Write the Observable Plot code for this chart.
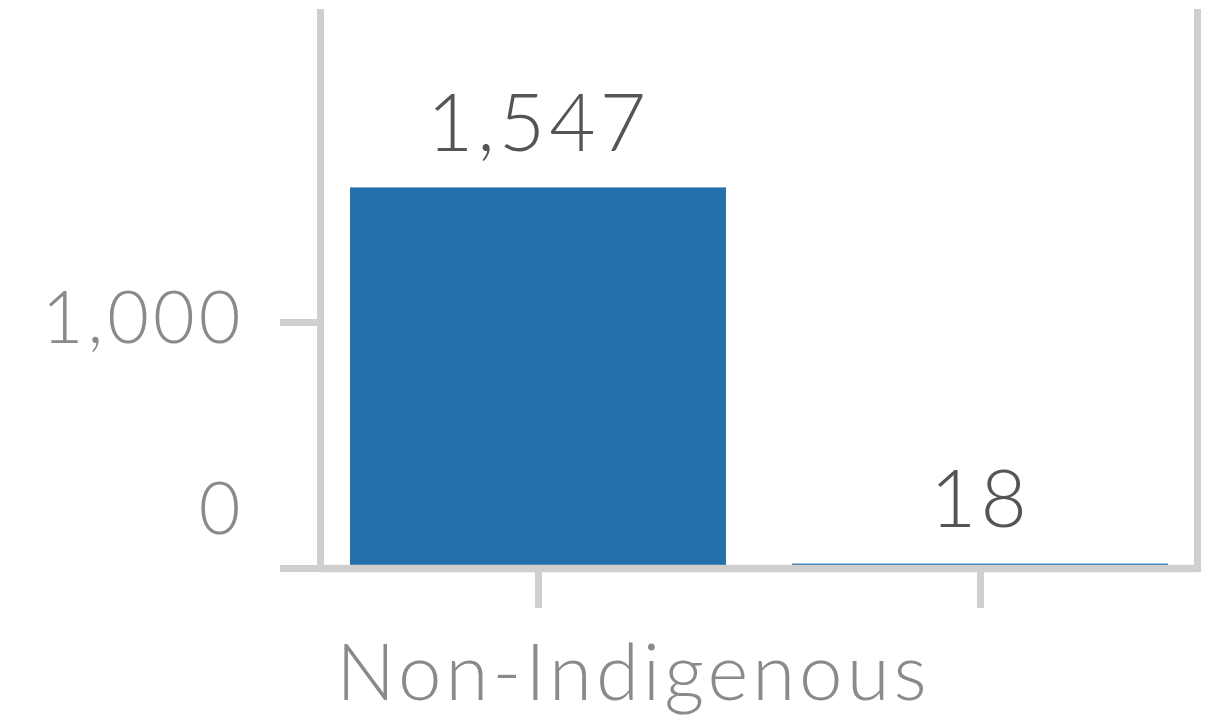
<!DOCTYPE html>
<html>
<head>
<meta charset="utf-8">
<script src="https://cdn.jsdelivr.net/npm/d3@7"></script>
<script src="https://cdn.jsdelivr.net/npm/@observablehq/plot@0.6"></script>
<style>
  html, body { margin: 0; padding: 0; background: #fff; }
  svg text { letter-spacing: 4px; }
</style>
</head>
<body>
<div id="chart"></div>
<script>
const categories = ["Non-Indigenous", "Indigenous"];
const values = [1547, 18];
const yTicks = [0, 1000];

const data = categories.map((c, i) => ({category: c, value: values[i]}));
const fmt = d3.format(",");
const lineColor = "#cfcfcf";
const lineW = 7.5;

const chart = Plot.plot({
  width: 1231,
  height: 724,
  marginLeft: 320,
  marginRight: 34,
  marginTop: 12,
  marginBottom: 156,
  style: {fontFamily: "Lato, 'Open Sans', sans-serif", fontWeight: 300, background: "#fff"},
  x: {domain: categories, paddingInner: 0.15, paddingOuter: 0.065, axis: null},
  y: {domain: [0, 2260], axis: null},
  marks: [
    Plot.barY(data, {x: "category", y: "value", fill: "#2470ab"}),
    Plot.frame({anchor: "left", stroke: lineColor, strokeWidth: 7}),
    Plot.frame({anchor: "right", stroke: lineColor, strokeWidth: 7}),
    Plot.ruleY([0], {stroke: lineColor, strokeWidth: lineW}),
    Plot.axisY({ticks: yTicks, tickSize: 40, tickFormat: () => "", label: null, stroke: lineColor, strokeWidth: 7}),
    Plot.axisX({tickSize: 40, tickFormat: () => "", label: null, stroke: lineColor, strokeWidth: 7}),
    Plot.text(data, {x: "category", y: "value", text: d => fmt(d.value), lineAnchor: "bottom", dy: -37, fontSize: 80, fill: "#555"}),
    Plot.text(yTicks.filter(d => d !== 0), {y: d => d, text: d => fmt(d), frameAnchor: "left", textAnchor: "end", dx: -76, dy: -3, fontSize: 72, fill: "#8a8a8a"}),
    Plot.text(yTicks.filter(d => d === 0), {y: d => d, text: d => fmt(d), frameAnchor: "left", textAnchor: "end", dx: -76, dy: -58, fontSize: 72, fill: "#8a8a8a"}),
    Plot.text([categories[0]], {x: d => d, frameAnchor: "bottom", lineAnchor: "top", dx: 95, dy: 76, fontSize: 78, fill: "#8a8a8a"})
  ]
});
document.getElementById("chart").appendChild(chart);
</script>
</body>
</html>
